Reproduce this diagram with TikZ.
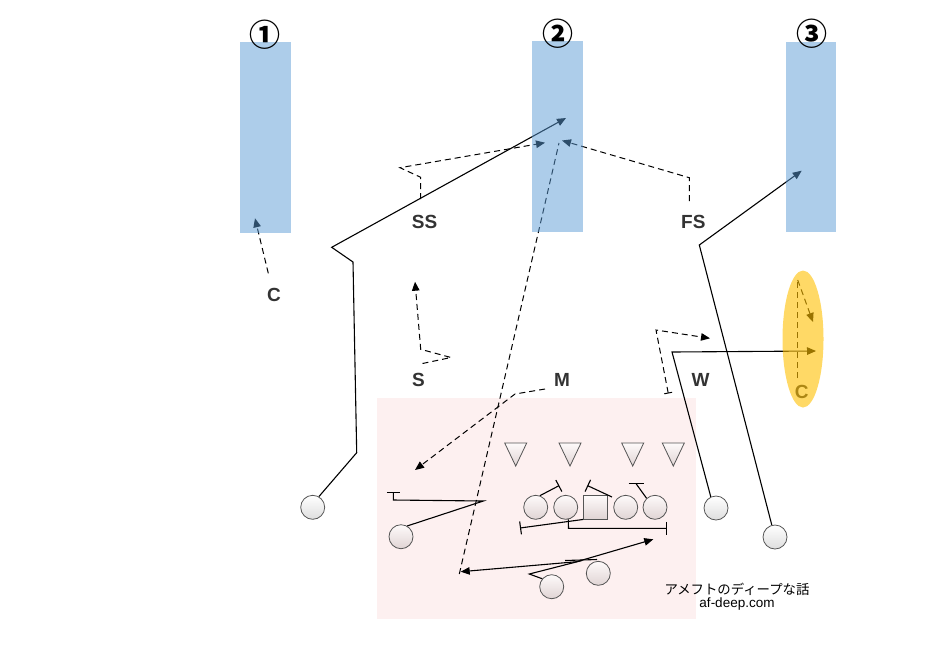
\documentclass[tikz,border=0pt]{standalone}
\usepackage{fontspec}
\setmainfont{Liberation Sans}
\newfontfamily\jpfont{Noto Sans CJK JP}
\newfontfamily\symfont{Noto Sans CJK JP}
\usetikzlibrary{arrows.meta,shapes.geometric}
\definecolor{lblue}{RGB}{91,155,213}
\definecolor{gold}{RGB}{255,192,0}
\definecolor{pinkbg}{RGB}{253,240,240}
\definecolor{txt}{RGB}{51,51,51}
\definecolor{edge}{RGB}{85,85,85}
\definecolor{shadelo}{RGB}{222,222,222}
\definecolor{shadelop}{RGB}{224,212,212}
\definecolor{shadehip}{RGB}{254,250,250}
\begin{document}
\begin{tikzpicture}[x=1pt,y=-1pt,
  >={Triangle[length=9pt,width=7.5pt]},
  lbl/.style={font=\fontsize{19}{22}\selectfont\bfseries, text=txt, inner sep=0},
  plr/.style={circle, draw=edge, line width=0.8pt, minimum size=24pt, inner sep=0, top color=white, bottom color=shadelo},
  plrin/.style={plr, top color=shadehip, bottom color=shadelop},
  tri/.style={isosceles triangle, isosceles triangle apex angle=51, shape border rotate=270, draw=edge, line width=0.8pt, minimum size=22pt, inner sep=0, top color=shadehip, bottom color=shadelop},
  zone/.style={fill=lblue, fill opacity=0.5, inner sep=0, minimum width=50.5pt},
  route/.style={draw=black, line width=1.1pt},
  droute/.style={draw=black, line width=1pt, dash pattern=on 6pt off 4pt},
  blk/.style={-{Bar[width=13pt,line width=1.1pt]}},
  num/.style={font=\symfont\bfseries\fontsize{31}{34}\selectfont, text=black, inner sep=0}
]
\useasboundingbox (0,0) rectangle (933,646);
\node[fill=pinkbg, inner sep=0, minimum width=318.7pt, minimum height=221pt] (box) at (536.65,508.8) {};

% ---- players ----
\node[plr] (wl) at (312.7,507.3) {};
\node[plrin] (sl) at (401,536.7) {};
\node[plrin] (lt) at (535.7,507.3) {};
\node[plrin] (lg) at (565.7,507.3) {};
\node[plrin, rectangle, minimum size=23.5pt] (ce) at (595.3,507.3) {};
\node[plrin] (rg) at (625.7,507.3) {};
\node[plrin] (rt) at (655,507.3) {};
\node[plr] (wr) at (716,508) {};
\node[plr] (wr2) at (775,537) {};
\node[plrin] (rb) at (551.7,586.7) {};
\node[plrin] (qb) at (598.3,573.3) {};

% ---- defenders ----
\node[tri, anchor=apex] (d1) at (515.7,467) {};
\node[tri, anchor=apex] (d2) at (570,467) {};
\node[tri, anchor=apex] (d3) at (632.7,467) {};
\node[tri, anchor=apex] (d4) at (673.3,467) {};

% ---- labels ----
\node[lbl] (lss) at (424.5,222) {SS};
\node[lbl] (lfs) at (693.3,222) {FS};
\node[lbl] (lc1) at (274,295) {C};
\node[lbl] (ls) at (418.5,380) {S};
\node[lbl] (lm) at (562,380) {M};
\node[lbl] (lw) at (700.5,380) {W};
\node[lbl] (lc2) at (801.7,392) {C};

% ---- coordinates ----
\coordinate (a1) at (356.7,452.7);
\coordinate (a2) at (353,262);
\coordinate (a3) at (331.7,247.3);
\coordinate (a4) at (566,118);
\coordinate (b1) at (699.3,245);
\coordinate (b2) at (801.7,170.7);
\coordinate (c1) at (672,352);
\coordinate (c2) at (816,351);
\coordinate (e1) at (668.3,393.5);
\coordinate (e2) at (656,330);
\coordinate (e3) at (710,338.3);
\coordinate (f1) at (422.5,363.5);
\coordinate (f2) at (451,357.5);
\coordinate (f3) at (420.7,349.3);
\coordinate (f4) at (415,281.7);
\coordinate (g1) at (420.7,199);
\coordinate (g2) at (420.7,177.3);
\coordinate (g3) at (400,167.7);
\coordinate (g4) at (545,142.7);
\coordinate (h1) at (689.3,201);
\coordinate (h2) at (689.3,177.7);
\coordinate (h3) at (562,140.5);
\coordinate (m1) at (545,389);
\coordinate (m2) at (515,394);
\coordinate (m3) at (415,470);
\coordinate (k1) at (268.3,273.3);
\coordinate (k2) at (255,218.3);
\coordinate (n1) at (797.7,378);
\coordinate (n2) at (797.7,280);
\coordinate (n3) at (813,322);
\coordinate (p1) at (459.3,574);
\coordinate (p2) at (559,143);
\coordinate (q1) at (460.7,571.7);
\coordinate (q2) at (576.7,561.7);
\coordinate (q3) at (653.3,539.3);
\coordinate (r1) at (529.3,574);
\coordinate (r2) at (582,560.5);
\coordinate (r3) at (565,560.5);
\coordinate (r4) at (597,559.5);
\coordinate (s1) at (483.3,501);
\coordinate (s2) at (393.3,500);
\coordinate (s3) at (393.3,491.7);
\coordinate (t1) at (520,528);
\coordinate (u1) at (568.5,528.3);
\coordinate (u2) at (666.7,528.3);
\coordinate (v1) at (559.3,485.5);
\coordinate (w1) at (612,497);
\coordinate (w2) at (587.3,485.5);
\coordinate (x1) at (636.3,484);
\coordinate (x2) at (628.5,483.5);
\coordinate (x3) at (644,483.5);

% ---- solid routes ----
\draw[route,->] (wl.60) -- (a1) -- (a2) -- (a3) -- (a4);
\draw[route,->] (wr2.105) -- (b1) -- (b2);
\draw[route,->] (wr.115) -- (c1) -- (c2);
\draw[route,<->] (q1) -- (q2) -- (q3);
\draw[route] (rb.140) -- (r1) -- (r2);
\draw[route] (r3) -- (r4);
\draw[route,blk] (sl.60) -- (s1) -- (s2) -- (s3);
\draw[route,blk] (ce.south west) -- (t1);
\draw[route,blk] (lg.-78) -- (u1) -- (u2);
\draw[route,blk] (lt.70) -- (v1);
\draw[route,blk] (w1) -- (w2);
\draw[route] (rt.133) -- (x1);
\draw[route] (x2) -- (x3);

% ---- dashed routes ----
\draw[droute,{Bar[width=8pt,line width=1pt]}-{Triangle[length=9pt,width=7.5pt]}] (e1) -- (e2) -- (e3);
\draw[droute,->] (f1) -- (f2) -- (f3) -- (f4);
\draw[droute,->] (g1) -- (g2) -- (g3) -- (g4);
\draw[droute,->] (h1) -- (h2) -- (h3);
\draw[droute,->] (m1) -- (m2) -- (m3);
\draw[droute,->] (k1) -- (k2);
\draw[droute] (n1) -- (n2);
\draw[droute,->] (n2) -- (n3);
\draw[droute] (p1) -- (p2);

% ---- zones (overlay) ----
\node[zone, minimum width=50.7pt, minimum height=191.6pt] (z1) at (265.35,137.5) {};
\node[zone, minimum width=50.4pt, minimum height=190.7pt] (z2) at (557.5,136.35) {};
\node[zone, minimum width=50pt, minimum height=189.7pt] (z3) at (811,136.85) {};
\node[fill=gold, fill opacity=0.6, ellipse, inner sep=0, minimum width=41pt, minimum height=137pt] (oval) at (803,339) {};

% ---- zone numbers ----
\node[num] (n1l) at (265,35) {①};
\node[num] (n2l) at (557.5,33.5) {②};
\node[num] (n3l) at (811.5,34) {③};

% ---- credit ----
\node[font=\jpfont\fontsize{13.4}{15}\selectfont, inner sep=0] (jp) at (737,589) {アメフトのディープな話};
\node[font=\fontsize{13.5}{15}\selectfont, text=black, inner sep=0] (url) at (737,604) {af-deep.com};
\end{tikzpicture}
\end{document}
